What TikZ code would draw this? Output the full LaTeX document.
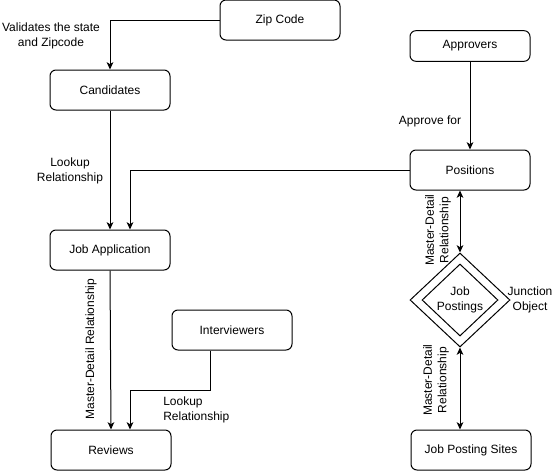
\documentclass[tikz,border=0pt]{standalone}
\usepackage{fontspec}
\setmainfont{Liberation Sans}
\usetikzlibrary{arrows.meta,shapes.geometric}

\begin{document}
\begin{tikzpicture}[x=0.75pt,y=-0.75pt,
  every node/.style={font=\fontsize{9}{11}\selectfont, inner sep=0pt},
  entity/.style={draw, rounded corners=4.5pt, line width=0.75pt,
    minimum width=90pt, minimum height=30pt},
  rel/.style={line width=0.75pt, -{Stealth[length=5.5pt,width=5pt,inset=1.5pt]}},
  birel/.style={line width=0.75pt, {Stealth[length=5.5pt,width=5pt,inset=1.5pt]}-{Stealth[length=5.5pt,width=5pt,inset=1.5pt]}},
  note/.style={align=center},
  junction/.style={draw, diamond, line width=0.75pt, inner sep=0pt}
]
\useasboundingbox (0,0) rectangle (553,471);

% entities
\node[entity] (zip)  at (280,20)  {Zip Code};
\node[entity] (cand) at (110,90)  {Candidates};
\node[entity] (ja)   at (110,250) {Job Application};
\node[entity] (rev)  at (111,450) {Reviews};
\node[entity] (int)  at (232,330) {Interviewers};
\node[entity, minimum height=23pt] (appr) at (470,46)  {Approvers};
\node[entity] (pos)  at (470,170) {Positions};
\node[entity] (jps)  at (471,450) {Job Posting Sites};

% junction object drawn as a double diamond
\node[junction, minimum width=75pt, minimum height=70.5pt] (jp) at (460,300) {};
\node[junction, minimum width=57pt, minimum height=54pt, align=center] (jpin) at (460,300) {Job\\Postings};

% connectors
\draw[rel] (zip.west) -| (cand.north);
\draw[rel] (cand.south) -- (ja.north);
\draw[rel] (pos.west) -| ([xshift=15pt]ja.north);
\draw[rel] (appr.south) -- (pos.north);
\draw[rel] (ja.south) -- (rev.north);
\draw[rel] ([xshift=-16.5pt]int.south) -- ++(0,40) -| ([xshift=14.25pt]rev.north);
\draw[birel] (pos.south -| jp.north) -- (jp.north);
\draw[birel] (jp.south) -- (jps.north -| jp.south);

% labels
\node[note] (lzip) at (51,36) {Validates the state\\and Zipcode};
\node[note] (lcand) at (70,171) {Lookup\\Relationship};
\node[note] (lappr) at (430,121) {Approve for};
\node[note, rotate=90] (lja) at (91,349) {Master-Detail Relationship};
\node[align=left, anchor=west, fill=white] (lint) at (163,410) {Lookup\\Relationship};
\node[note, rotate=90] (lpos) at (438,230) {Master-Detail\\Relationship};
\node[note, rotate=90] (ljps) at (436,380) {Master-Detail\\Relationship};
\node[note] (ljunc) at (530,300) {Junction\\Object};
\end{tikzpicture}
\end{document}
